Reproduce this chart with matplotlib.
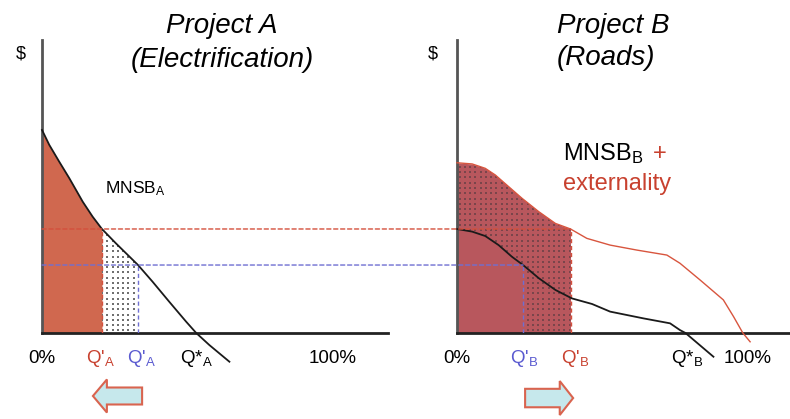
import numpy as np
import matplotlib
matplotlib.use('Agg')
import matplotlib.pyplot as plt
from matplotlib.patches import FancyArrow, ConnectionPatch

plt.rcParams['font.family'] = ['Liberation Sans', 'DejaVu Sans']
plt.rcParams['mathtext.fontset'] = 'custom'
plt.rcParams['mathtext.rm'] = 'Liberation Sans'
plt.rcParams['mathtext.it'] = 'Liberation Sans:italic'

# Project A (electrification): MNSB_A curve
qa = [0, 2.5, 5.9, 9.4, 14.0, 17.4, 20.6, 25.4, 33.0, 38.0, 43.7, 49.5, 53.0, 57.5, 64.4]
mnsb_a = [69.3, 64.2, 58.5, 52.8, 44.8, 39.7, 35.5, 30.6, 23.2, 17.5, 10.7, 3.9, 0, -4.1, -9.8]

# Project B (roads): MNSB_B
qb = [0, 5.2, 9.7, 14.3, 18.9, 22.7, 28.1, 33.8, 39.5, 46.4, 52.6, 64.0, 73.2, 76.6, 78.5, 88.1]
mnsb_b = [35.5, 34.6, 33.1, 30.0, 26.0, 23.2, 18.7, 14.7, 11.8, 9.9, 7.3, 5.0, 3.3, 1.0, 0, -8.1]

# Project B: MNSB_B + externality
qb_ext = [0, 5.2, 9.7, 13.2, 17.8, 22.3, 28.1, 33.8, 39.0, 44.6, 52.6, 61.8, 72.1, 76.6,
          83.5, 91.5, 95.0, 98.2, 100.7]
mnsb_b_ext = [58.1, 57.7, 56.2, 53.9, 49.9, 46.0, 41.4, 37.4, 35.5, 32.3, 30.0, 28.3, 26.6, 23.8,
              18.1, 11.3, 5.6, 0, -3.0]

# marginal levels and quantities
level_red, level_blue = 35.5, 23.2
qa_red, qa_blue, qa_star = 20.6, 33.0, 53.0
qb_blue, qb_red, qb_star = 22.7, 39.0, 78.5

red = '#d4503c'
blue = '#6f6fd2'
fill_a = '#d0684f'
fill_b = '#b8575d'
arrow_face = '#c6e8ec'
arrow_edge = '#d9644f'

fig = plt.figure(figsize=(7.9, 4.19), dpi=100)
ax1 = fig.add_axes([42/790, 86/419, 346/790, 293/419])
ax2 = fig.add_axes([457/790, 86/419, 333/790, 293/419])
ax1.set_xlim(0, 118.9)
ax2.set_xlim(0, 114.4)
for ax in (ax1, ax2):
    ax.set_ylim(0, 100)
    ax.set_xticks([])
    ax.set_yticks([])
    ax.spines['top'].set_visible(False)
    ax.spines['right'].set_visible(False)
    ax.spines['left'].set_color('#555555')
    ax.spines['left'].set_linewidth(2)
    ax.spines['bottom'].set_color('#222222')
    ax.spines['bottom'].set_linewidth(2)
    ax.patch.set_alpha(0)


def grid(q, v, a, b):
    xs = np.linspace(a, b, 200)
    return xs, np.interp(xs, q, v)


def dots(ax, poly, color):
    # square grid of small dots, clipped to the filled area
    gx, gy = np.meshgrid(np.arange(0.9, 60, 1.8), np.arange(0.9, 70, 1.8))
    sc = ax.scatter(gx.ravel(), gy.ravel(), s=3.2, marker='s', color=color, linewidths=0, zorder=2)
    sc.set_clip_path(poly.get_paths()[0], ax.transData)


# --- Project A ---
xs, ys = grid(qa, mnsb_a, 0, qa_red)
ax1.fill_between(xs, 0, ys, color=fill_a, lw=0)
xs, ys = grid(qa, mnsb_a, qa_red, qa_blue)
pa = ax1.fill_between(xs, 0, ys, facecolor='none', lw=0)
dots(ax1, pa, '#707070')
ax1.plot([qa_red, qa_red], [0, level_red], ls=(0, (3, 2)), color=red, lw=1, zorder=3)
ax1.plot([qa_blue, qa_blue], [0, level_blue], ls=(0, (3, 2)), color=blue, lw=1, zorder=3)
ax1.plot(qa, mnsb_a, color='#1a1a1a', lw=1.3, clip_on=False, zorder=4)

# --- Project B ---
xs, ys = grid(qb_ext, mnsb_b_ext, 0, qb_red)
pb = ax2.fill_between(xs, 0, ys, color=fill_b, lw=0)
dots(ax2, pb, '#7a454b')
xs, ys = grid(qb, mnsb_b, 0, qb_blue)
ax2.fill_between(xs, 0, ys, color=fill_b, lw=0, zorder=2.5)
ax2.plot([qb_blue, qb_blue], [0, level_blue], ls=(0, (3, 2)), color=blue, lw=1, zorder=3)
ax2.plot([qb_red, qb_red], [0, level_red], ls=(0, (3, 2)), color=red, lw=1, zorder=3)
ax2.plot(qb_ext, mnsb_b_ext, color='#d8553e', lw=1.0, clip_on=False, zorder=4)
ax2.plot(qb, mnsb_b, color='#1a1a1a', lw=1.3, clip_on=False, zorder=4)

# dashed lines linking the two panels
for level, qend, c in [(level_red, qb_red, red), (level_blue, qb_blue, blue)]:
    con = ConnectionPatch(xyA=(0, level), coordsA=ax1.transData,
                          xyB=(qend, level), coordsB=ax2.transData,
                          ls=(0, (3, 2)), color=c, lw=1, zorder=3)
    fig.add_artist(con)

# axis labels
lab_y = -10.2
fs = 13.5
ax1.text(0, lab_y, '0%', ha='center', va='baseline', fontsize=fs)
ax1.text(100, lab_y, '100%', ha='center', va='baseline', fontsize=fs)
ax1.text(qa_red - 0.5, lab_y, r"Q'$_\mathrm{A}$", ha='center', va='baseline', fontsize=fs, color='#c8412f')
ax1.text(qa_blue + 1.2, lab_y, r"Q'$_\mathrm{A}$", ha='center', va='baseline', fontsize=fs, color='#5a5ad0')
ax1.text(qa_star, lab_y, r"Q*$_\mathrm{A}$", ha='center', va='baseline', fontsize=fs)
ax2.text(0, lab_y, '0%', ha='center', va='baseline', fontsize=fs)
ax2.text(100, lab_y, '100%', ha='center', va='baseline', fontsize=fs)
ax2.text(qb_blue + 0.5, lab_y, r"Q'$_\mathrm{B}$", ha='center', va='baseline', fontsize=fs, color='#5a5ad0')
ax2.text(qb_red + 1.5, lab_y, r"Q'$_\mathrm{B}$", ha='center', va='baseline', fontsize=fs, color='#c8412f')
ax2.text(qb_star + 0.5, lab_y, r"Q*$_\mathrm{B}$", ha='center', va='baseline', fontsize=fs)

ax1.text(21.6, 47.8, r'MNSB$_\mathrm{A}$', fontsize=12.5, va='baseline')
ax2.text(36.4, 59, r'MNSB$_\mathrm{B}$', fontsize=17, va='baseline')
ax2.text(67.4, 59, '+', fontsize=17, va='baseline', color='#c8412f')
ax2.text(36.4, 48.8, 'externality', fontsize=17, va='baseline', color='#c8412f')

# titles and $ labels
fig.text(222/790, 1 - 33/419, 'Project A', ha='center', va='baseline', fontsize=20, style='italic')
fig.text(222/790, 1 - 67/419, '(Electrification)', ha='center', va='baseline', fontsize=20, style='italic')
fig.text(557/790, 1 - 33/419, 'Project B', ha='left', va='baseline', fontsize=20, style='italic')
fig.text(557/790, 1 - 65/419, '(Roads)', ha='left', va='baseline', fontsize=20, style='italic')
fig.text(21/790, 1 - 58/419, '$', ha='center', va='baseline', fontsize=13)
fig.text(433/790, 1 - 58/419, '$', ha='center', va='baseline', fontsize=13)

# shift arrows
arr_a = FancyArrow(34.4, -21.5, -16.9, 0, width=5.8, head_width=11.3,
                   head_length=4.8, length_includes_head=True, fc=arrow_face, ec=arrow_edge, lw=1.5, clip_on=False)
ax1.add_patch(arr_a)
arr_b = FancyArrow(23.4, -22.2, 16.5, 0, width=6.3, head_width=11.6,
                   head_length=4.6, length_includes_head=True, fc=arrow_face, ec=arrow_edge, lw=1.5, clip_on=False)
ax2.add_patch(arr_b)

fig.savefig('out.png', dpi=100)
